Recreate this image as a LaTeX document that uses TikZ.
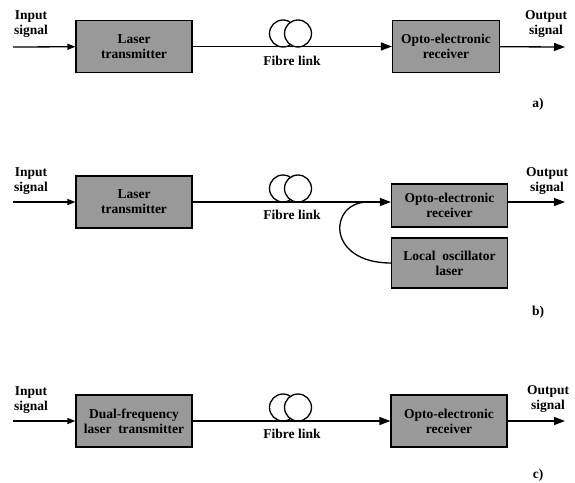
\documentclass[tikz,border=0pt]{standalone}
\usepackage{fontspec}
\setmainfont{Liberation Serif}
\usetikzlibrary{arrows.meta}
\tikzset{
  blk/.style={draw, fill=black!40, line width=1.2pt, align=center, inner sep=0pt,
    minimum width=116pt, minimum height=52pt},
  lbl/.style={align=center, inner sep=0pt},
  sig/.style={line width=1.3pt, -{Triangle[length=11pt,width=8pt]}},
  sigs/.style={line width=1.3pt, -{Triangle[length=8pt,width=6pt]}},
  coil/.style={circle, draw, line width=1.3pt, minimum size=27pt, inner sep=0pt}
}
\begin{document}
\begin{tikzpicture}[x=1pt, y=-1pt, font=\fontsize{13.5}{15}\selectfont\rmfamily\bfseries]
\useasboundingbox (0,0) rectangle (575,482);
% a)
\node[blk] (ta) at (134,46.5){Laser\\transmitter};
\node[blk, minimum width=107pt] (ra) at (446,46.5){Opto-electronic\\receiver};
\node[lbl] (ina) at (31,24){Input\\signal};
\node[lbl] (outa) at (546,24){Output\\signal};
\coordinate (sa) at (13,47);
\coordinate (ea) at (565,47);
\node[coil] (ca1) at (283,33.5){};
\node[coil, fill=white] (ca2) at (298,33.5){};
\node[lbl] (fa) at (292,61){Fibre link};
\node[lbl] (la) at (538,104){a)};
\draw[sigs] (sa) -- (ta);
\draw[sig] (ta) -- (ra);
\draw[sig] (ra) -- (ea);
% b)
\node[blk] (tb) at (134,202){Laser\\transmitter};
\node[blk, minimum height=43pt] (rb) at (449.5,205.5){Opto-electronic\\receiver};
\node[blk, minimum height=50pt] (lo) at (449.5,263){Local\ \ oscillator\\laser};
\node[lbl] (inb) at (31,181){Input\\signal};
\node[lbl] (outb) at (547,181){Output\\signal};
\coordinate (sb) at (13,202);
\coordinate (eb) at (565,202);
\coordinate (jb) at (368,202);
\node[coil] (cb1) at (283,188.5){};
\node[coil, fill=white] (cb2) at (298,188.5){};
\node[lbl] (fb) at (292,215){Fibre link};
\node[lbl] (lb) at (538,312){b)};
\draw[sigs] (sb) -- (tb);
\draw[sig] (tb.east) -- (tb.east -| rb.west);
\draw[sig] (rb.east |- eb) -- (eb);
\draw[line width=1.3pt] (lo.west) .. controls (326,263) and (328,202) .. (jb);
% c)
\node[blk] (tc) at (134,421){Dual-frequency\\laser\ \ transmitter};
\node[blk] (rc) at (449,421){Opto-electronic\\receiver};
\node[lbl] (inc) at (31,400){Input\\signal};
\node[lbl] (outc) at (548,399){Output\\signal};
\coordinate (sc) at (13,421);
\coordinate (ec) at (565,421);
\node[coil] (cc1) at (283,407.5){};
\node[coil, fill=white] (cc2) at (298,407.5){};
\node[lbl] (fc) at (292,434){Fibre link};
\node[lbl] (lc) at (538,475){c)};
\draw[sigs] (sc) -- (tc);
\draw[sig] (tc) -- (rc);
\draw[sig] (rc) -- (ec);
\end{tikzpicture}
\end{document}
